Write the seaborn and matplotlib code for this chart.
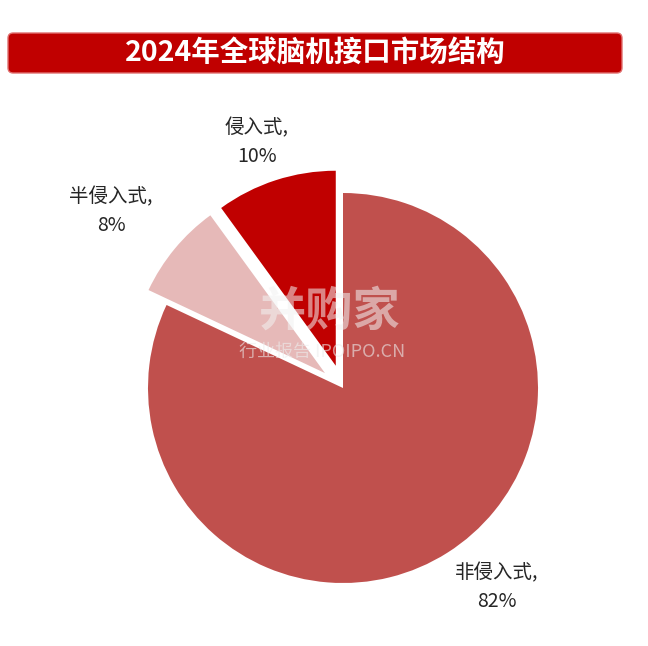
import matplotlib
matplotlib.use('Agg')
import matplotlib.pyplot as plt
import seaborn as sns
from matplotlib.patches import FancyBboxPatch

# data
title = '2024年全球脑机接口市场结构'
categories = ['非侵入式', '半侵入式', '侵入式']
shares = [82, 8, 10]
colors = ['#C0504D', '#E6B9B8', '#C00000']
explode = [0, 0.12, 0.12]

sns.set_theme(style='white')
plt.rcParams['font.family'] = ['Noto Sans CJK SC', 'DejaVu Sans']

W, H = 648, 646
fig = plt.figure(figsize=(W / 100, H / 100), dpi=100)
fig.patch.set_facecolor('white')

# title banner
banner = FancyBboxPatch((8 / W, 1 - 73 / H), 614 / W, 40 / H,
                        boxstyle='round,pad=0,rounding_size=0.008',
                        transform=fig.transFigure, facecolor='#C00000',
                        edgecolor='#E07070', linewidth=1)
fig.patches.append(banner)
fig.text(315 / W, 1 - 53 / H, title, ha='center', va='center',
         color='white', fontsize=20.5, fontweight='bold')

ax = fig.add_axes([0, 0, 1, 1])
cx, cy, r = 343, H - 388, 195
# matplotlib's explode is in data units, so scale by radius
ax.pie(shares, colors=colors, explode=[e * r for e in explode],
       startangle=90, counterclock=False, center=(cx, cy), radius=r,
       wedgeprops=dict(linewidth=0))
ax.set_xlim(0, W)
ax.set_ylim(0, H)
ax.set_aspect('auto')
ax.axis('off')

# labels
label_pos = {'非侵入式': (497, 587), '半侵入式': (111, 211), '侵入式': (257, 142)}
for cat, val in zip(categories, shares):
    x, y = label_pos[cat]
    ax.text(x, H - y, f'{cat},\n{val}%', ha='center', va='center',
            fontsize=14, color='#262626', linespacing=1.45)

# faint watermark
ax.text(330, H - 312, '并购家', ha='center', va='center', fontsize=34,
        color='#F2F2F2', alpha=0.55, fontweight='bold')
ax.text(322, H - 352, '行业报告 IPOIPO.CN', ha='center', va='center',
        fontsize=13, color='#EDEDED', alpha=0.6)

fig.savefig('out.png', dpi=100)
